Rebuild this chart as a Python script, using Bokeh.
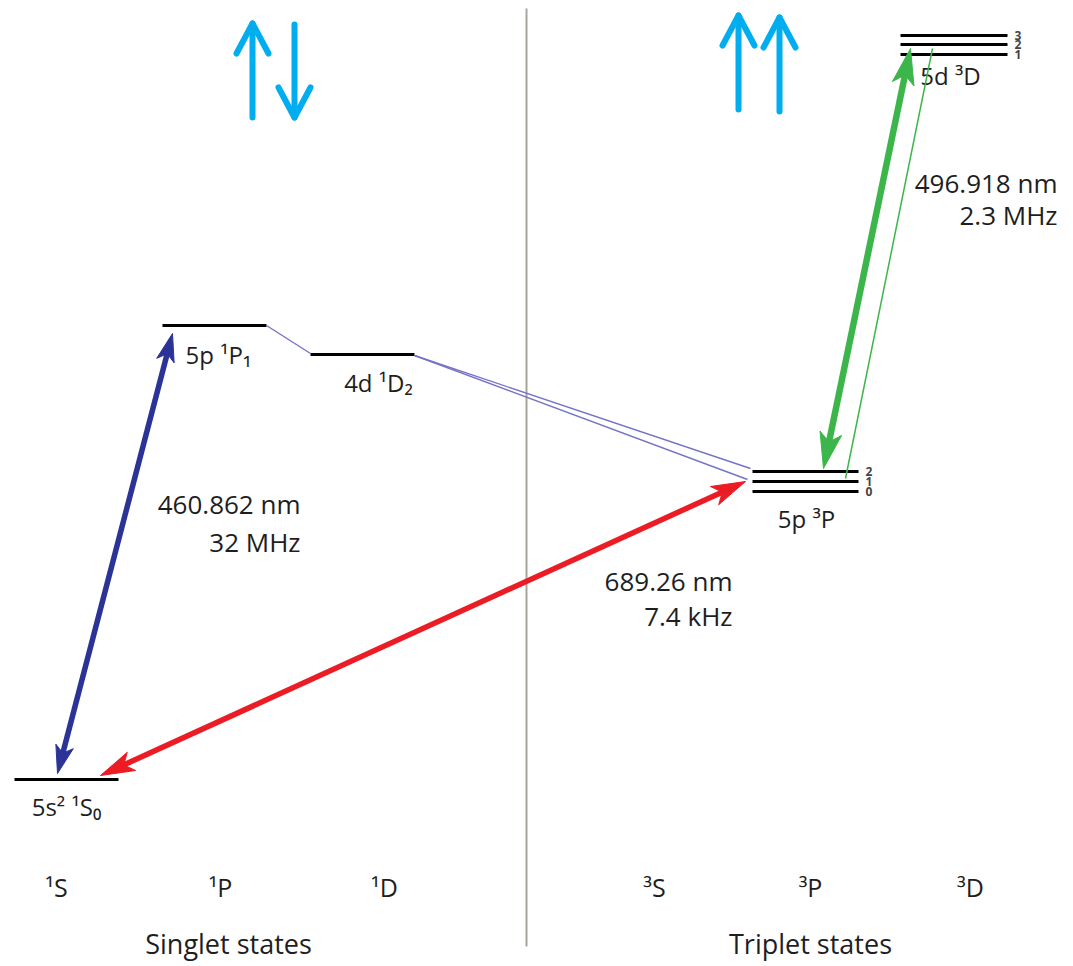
import numpy as np
from bokeh.plotting import figure
from bokeh.models import Range1d
from bokeh.embed import file_html
from bokeh.resources import INLINE
from bokeh.core.properties import value

# ---------------- data ----------------
# energy levels: name, horizontal span (column), energy height (diagram units, top = high energy)
level_names = ["5s² ¹S₀", "5p ¹P₁", "4d ¹D₂", "5p ³P", "5d ³D"]
level_x0 = [14, 162, 310, 752, 900]
level_x1 = [118, 266, 414, 858, 1007]
level_y = [779, 325, 354, 481, 44]
# fine-structure sub-levels
p3_J = ["2", "1", "0"]
p3_y = [471, 481, 491]
d3_J = ["3", "2", "1"]
d3_y = [35, 44, 54]

# level label anchors
label_x = [66, 218, 378, 806, 950]
label_y = [806, 354, 382, 518, 75]

# transitions (strong, double-headed)
tr_names = ["460.862 nm", "689.26 nm", "496.918 nm"]
tr_widths = ["32 MHz", "7.4 kHz", "2.3 MHz"]
tr_colors = ["#2b3396", "#ec1c24", "#3cb64a"]
tr_x0 = [57, 100, 910]
tr_y0 = [773, 775, 48]
tr_x1 = [172, 745, 823]
tr_y1 = [333, 481, 468]
tr_lx = [300, 732, 1057]   # right edge of labels
tr_ly1 = [503, 580, 182]
tr_ly2 = [541, 615, 214]

# weak decay channels (thin)
decay_x0 = [266, 414, 414]
decay_y0 = [325, 355, 355]
decay_x1 = [310, 750, 747]
decay_y1 = [353, 468, 479]

# column labels
col_labels = ["¹S", "¹P", "¹D", "³S", "³P", "³D"]
col_x = [56, 220, 384, 654, 810, 970]
group_labels = ["Singlet states", "Triplet states"]
group_x = [228, 810]

FONT = value("Open Sans")
TXT = "#1e1e1e"

p = figure(width=1073, height=966, output_backend="svg", toolbar_location=None,
           x_range=Range1d(0, 1073), y_range=Range1d(966, 0), min_border=0)
p.axis.visible = False
p.grid.visible = False
p.outline_line_color = None
p.background_fill_color = "white"

# divider
p.segment(x0=[526], y0=[8], x1=[526], y1=[946], line_color="#aaa49e", line_width=2)

# levels
p.segment(x0=level_x0[:3], y0=level_y[:3], x1=level_x1[:3], y1=level_y[:3],
          line_color="black", line_width=3)
p.segment(x0=[level_x0[3]] * 3, y0=p3_y, x1=[level_x1[3]] * 3, y1=p3_y,
          line_color="black", line_width=3)
p.segment(x0=[level_x0[4]] * 3, y0=d3_y, x1=[level_x1[4]] * 3, y1=d3_y,
          line_color="black", line_width=3)
p.text(x=[level_x1[3] + 7] * 3, y=p3_y, text=p3_J, text_font=FONT, text_font_size="12px",
       text_font_style="bold", text_color="#444444", text_baseline="middle", text_align="left")
p.text(x=[level_x1[4] + 7] * 3, y=d3_y, text=d3_J, text_font=FONT, text_font_size="12px",
       text_font_style="bold", text_color="#444444", text_baseline="middle", text_align="left")
p.text(x=label_x, y=label_y, text=level_names, text_font=FONT, text_font_size="24px",
       text_color=TXT, text_baseline="middle", text_align="center")

# thin decay lines
p.segment(x0=decay_x0, y0=decay_y0, x1=decay_x1, y1=decay_y1,
          line_color="#7474c6", line_width=1.4)
# thin green line (5p 3P1 -> 5d 3D)
p.segment(x0=[845], y0=[478], x1=[932], y1=[48], line_color="#3cb64a", line_width=1.5)


def head(ax, ay, bx, by, L, W):
    d = np.array([bx - ax, by - ay], float)
    u = d / np.hypot(*d)
    n = np.array([-u[1], u[0]])
    tip = np.array([bx, by], float)
    base = tip - L * u
    pts = [tip, base + W * n, base + 0.25 * L * u, base - W * n]
    return [q[0] for q in pts], [q[1] for q in pts]


hl = [28, 34, 36]
hw = [9, 10, 11]
lw = [5.5, 5.5, 6.5]
for i in range(3):
    x0, y0, x1, y1 = tr_x0[i], tr_y0[i], tr_x1[i], tr_y1[i]
    d = np.array([x1 - x0, y1 - y0], float)
    u = d / np.hypot(*d)
    s0 = np.array([x0, y0]) + 0.6 * hl[i] * u
    s1 = np.array([x1, y1]) - 0.6 * hl[i] * u
    p.segment(x0=[s0[0]], y0=[s0[1]], x1=[s1[0]], y1=[s1[1]],
              line_color=tr_colors[i], line_width=lw[i])
    hx1, hy1 = head(x0, y0, x1, y1, hl[i], hw[i])
    hx2, hy2 = head(x1, y1, x0, y0, hl[i], hw[i])
    p.patches(xs=[hx1, hx2], ys=[hy1, hy2], fill_color=tr_colors[i], line_color=tr_colors[i])

p.text(x=tr_lx, y=tr_ly1, text=tr_names, text_font=FONT,
       text_font_size="26px", text_color=TXT, text_baseline="middle", text_align="right")
p.text(x=tr_lx, y=tr_ly2, text=tr_widths, text_font=FONT,
       text_font_size="26px", text_color=TXT, text_baseline="middle", text_align="right")

# spin arrows
spin_x = [252, 294, 738, 779]
spin_tail = [117, 24, 109, 111]
spin_tip = [23, 117, 15, 17]
xs, ys = [], []
for x, t0, t1 in zip(spin_x, spin_tail, spin_tip):
    sgn = 1 if t1 < t0 else -1
    xs.append([x, x]); ys.append([t0, t1])
    xs.append([x - 16, x, x + 16]); ys.append([t1 + sgn * 30, t1, t1 + sgn * 30])
p.multi_line(xs=xs, ys=ys, line_color="#00aeef", line_width=6,
             line_cap="round", line_join="round")

# column and group labels
p.text(x=col_x, y=[886] * 6, text=col_labels, text_font=FONT, text_font_size="25px",
       text_color=TXT, text_baseline="middle", text_align="center")
p.text(x=group_x, y=[943] * 2, text=group_labels, text_font=FONT, text_font_size="27px",
       text_color=TXT, text_baseline="middle", text_align="center")

open("out.html", "w").write(file_html(p, INLINE))
